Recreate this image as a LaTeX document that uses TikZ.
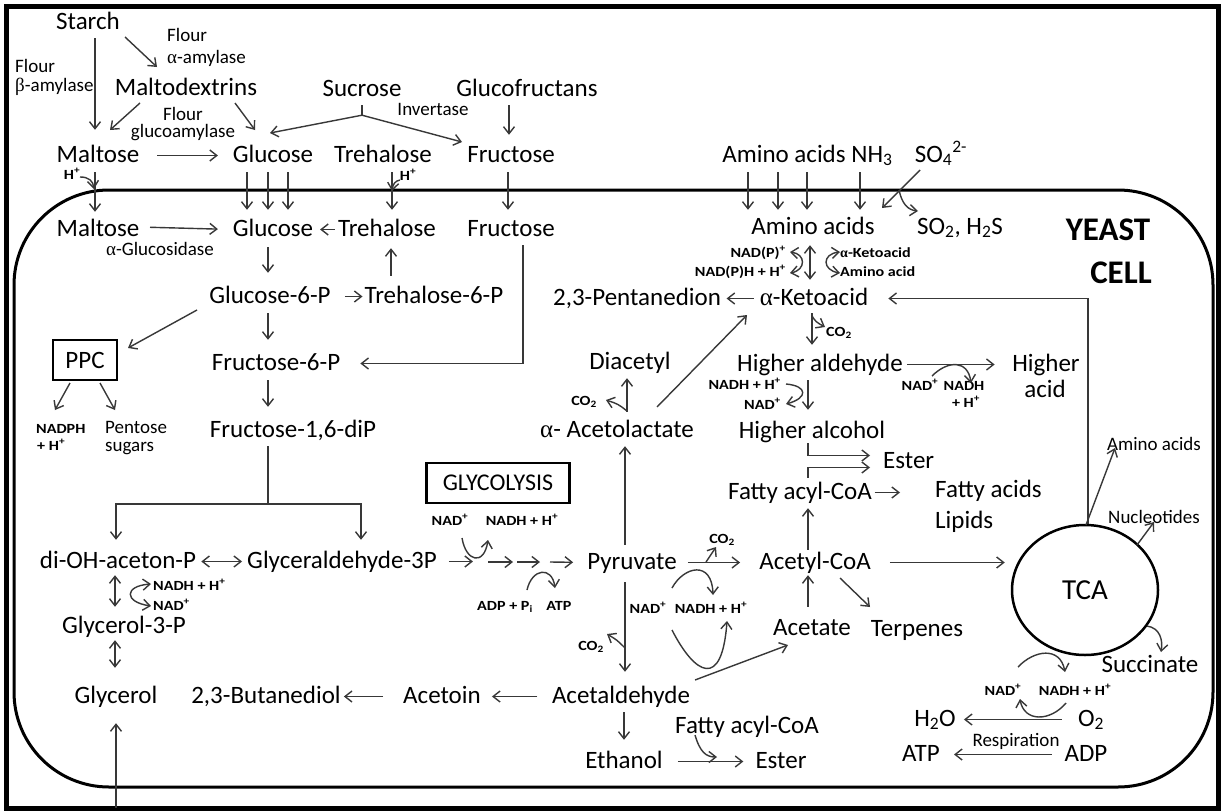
\documentclass[tikz,border=0pt]{standalone}
\usepackage{fontspec}
\setmainfont{Carlito}
\newfontfamily\tinyfont{Carlito}[FakeStretch=1.15]
\newfontfamily\grk{Liberation Serif}
\newcommand{\al}{{\grk α}}
\newcommand{\be}{{\grk β}}
\usetikzlibrary{arrows.meta,shapes.geometric}
\tikzset{
 lbl/.style={font=\fontsize{25}{28}\selectfont, inner sep=0pt, anchor=base, text height=18pt, text depth=5pt},
 sml/.style={font=\fontsize{19}{21}\selectfont, inner sep=0pt, anchor=base, text height=13pt, text depth=3pt},
 tny/.style={font=\tinyfont\bfseries\fontsize{14}{16}\selectfont, inner sep=0pt, anchor=base, text height=11pt, text depth=3pt},
 big/.style={font=\bfseries\fontsize{33}{36}\selectfont, inner sep=0pt, anchor=base},
 arr/.style={draw=black!78, line width=1.4pt, -{Straight Barb[length=7pt,width=11pt]}},
 darr/.style={draw=black!78, line width=1.4pt, {Straight Barb[length=7pt,width=11pt]}-{Straight Barb[length=7pt,width=11pt]}},
 ln/.style={draw=black!78, line width=1.4pt},
 box/.style={draw, line width=2.5pt, inner sep=0pt, font=\fontsize{25}{28}\selectfont},
}
\begin{document}
\begin{tikzpicture}[x=1pt,y=-1pt]
\useasboundingbox (0,0) rectangle (1224,811);
\fill[white] (0,0) rectangle (1224,811);
\draw[line width=5pt] (6,6) rectangle (1218,808);
\draw[line width=3pt, rounded corners=95pt] (14,190) rectangle (1213,787);
% column coordinates
\foreach \n in {95,115,116,247,268,288,361,391,392,508,509,523,624,625,627,748,778,807,808,810,812,860,1088}
  {\coordinate (c\n) at (\n,0);}
% ---------- outside ----------
\node[lbl] (starch) at (88,29) {Starch};
\node[sml,anchor=base west] (fl1) at (167,41) {Flour};
\node[sml,anchor=base west] (aamy) at (167,63) {\al-amylase};
\node[sml,anchor=base west] (fl2) at (15,72) {Flour};
\node[sml,anchor=base west] (bamy) at (15,91) {\be-amylase};
\node[lbl] (maltodex) at (186,95) {Maltodextrins};
\node[sml] (fl3) at (183,120) {Flour};
\node[sml] (gamy) at (183,137) {glucoamylase};
\node[lbl] (sucrose) at (362,96) {Sucrose};
\node[sml] (inv) at (433,115) {Invertase};
\node[lbl] (glucofr) at (527,96) {Glucofructans};
\node[lbl] (malt1) at (98,162) {Maltose};
\node[lbl] (glu1) at (273,162) {Glucose};
\node[lbl] (treh1) at (383,162) {Trehalose};
\node[lbl] (fru1) at (511,162) {Fructose};
\node[lbl] (amino1) at (784,162) {Amino acids};
\node[lbl] (nh3) at (872,162) {NH\textsubscript{3}};
\node[lbl] (so4) at (941,162) {SO\textsubscript{4}\textsuperscript{2-}};
\node[tny] (hp1) at (72,179) {H\textsuperscript{+}};
\node[tny] (hp2) at (408,180) {H\textsuperscript{+}};
% ---------- inside ----------
\node[lbl,text depth=0pt] (malt2) at (98,236) {Maltose};
\node[lbl] (glu2) at (273,236) {Glucose};
\node[lbl] (treh2) at (387,236) {Trehalose};
\node[lbl] (fru2) at (511,236) {Fructose};
\node[sml] (aglu) at (160,255) {\al-Glucosidase};
\node[lbl] (amino2) at (813,234) {Amino acids};
\node[lbl] (so2) at (960,234) {SO\textsubscript{2}, H\textsubscript{2}S};
\node[big] (yeast) at (1108,240) {YEAST};
\node[big] (cell) at (1121,283) {CELL};
\node[tny,anchor=base east] (nadp1) at (786,257) {NAD(P)\textsuperscript{+}};
\node[tny,anchor=base east] (nadph1) at (786,276) {NAD(P)H + H\textsuperscript{+}};
\node[tny,anchor=base west] (ketos) at (840,257) {\al-Ketoacid};
\node[tny,anchor=base west] (aas) at (840,276) {Amino acid};
\node[lbl] (g6p) at (270,303) {Glucose-6-P};
\node[lbl] (t6p) at (434,303) {Trehalose-6-P};
\node[lbl] (pent) at (637,305) {2,3-Pentanedion};
\node[lbl] (keto) at (814,305) {\al-Ketoacid};
\node[tny,anchor=base west] (co2a) at (826,336) {CO\textsubscript{2}};
\node[box, minimum width=64pt, minimum height=40pt] (ppc) at (85,360) {PPC};
\node[lbl] (f6p) at (276,370) {Fructose-6-P};
\node[lbl] (diacetyl) at (630,369) {Diacetyl};
\node[lbl] (hald) at (820,371) {Higher aldehyde};
\node[lbl] (higher) at (1046,371) {Higher};
\node[lbl] (acid) at (1045,397) {acid};
\node[tny,anchor=base east] (nadhh) at (781,389) {NADH + H\textsuperscript{+}};
\node[tny,anchor=base east] (nadh2) at (781,409) {NAD\textsuperscript{+}};
\node[tny] (nada) at (920,390) {NAD\textsuperscript{+}};
\node[tny] (nadha) at (964,390) {NADH};
\node[tny] (hpa) at (966,407) {+ H\textsuperscript{+}};
\node[tny] (co2b) at (584,405) {CO\textsubscript{2}};
\node[tny,anchor=base west] (nadph) at (36,433) {NADPH};
\node[tny,anchor=base west] (hpp) at (37,450) {+ H\textsuperscript{+}};
\node[sml,anchor=base west] (pentose) at (105,433) {Pentose};
\node[sml,anchor=base west] (sugars) at (105,451) {sugars};
\node[lbl] (f16) at (293,437) {Fructose-1,6-diP};
\node[lbl] (acetolac) at (617,437) {\al- Acetolactate};
\node[lbl] (halc) at (812,438) {Higher alcohol};
\node[lbl,anchor=base west] (ester1) at (883,468) {Ester};
\node[lbl] (facoa) at (800,499) {Fatty acyl-CoA};
\node[lbl,anchor=base west] (fattyacids) at (935,497) {Fatty acids};
\node[lbl,anchor=base west] (lipids) at (935,528) {Lipids};
\node[box, minimum width=143pt, minimum height=40pt, font=\fontsize{24}{27}\selectfont] (glyc) at (498,483) {GLYCOLYSIS};
\node[tny] (nadg) at (450,525) {NAD\textsuperscript{+}};
\node[tny] (nadhg) at (522,525) {NADH + H\textsuperscript{+}};
\node[lbl] (dihap) at (118,568) {di-OH-aceton-P};
\node[lbl] (gap3) at (342,568) {Glyceraldehyde-3P};
\node[lbl] (pyr) at (632,569) {Pyruvate};
\node[lbl] (acetylcoa) at (815,569) {Acetyl-CoA};
\node[tny] (co2c) at (722,543) {CO\textsubscript{2}};
\node[tny] (adpg) at (505,610) {ADP + P\textsubscript{i}};
\node[tny] (atpg) at (559,610) {ATP};
\node[tny] (nadp) at (648,613) {NAD\textsuperscript{+}};
\node[tny] (nadhp) at (711,613) {NADH + H\textsuperscript{+}};
\node[tny] (co2d) at (591,650) {CO\textsubscript{2}};
\node[tny,anchor=base west] (nadhgl) at (153,590) {NADH + H\textsuperscript{+}};
\node[tny,anchor=base west] (nadgl) at (153,610) {NAD\textsuperscript{+}};
\node[lbl] (g3p) at (124,633) {Glycerol-3-P};
\node[lbl] (acetate) at (812,635) {Acetate};
\node[lbl] (terpenes) at (917,636) {Terpenes};
\node[draw, ellipse, line width=2.5pt, minimum width=146pt, minimum height=130pt, inner sep=0pt, font=\fontsize{29}{32}\selectfont] (tca) at (1085,590) {TCA};
\node[sml] (aatca) at (1154,450) {Amino acids};
\node[sml] (nucl) at (1154,523) {Nucleotides};
\node[lbl] (succ) at (1150,672) {Succinate};
\node[tny] (nadt) at (1003,695) {NAD\textsuperscript{+}};
\node[tny] (nadht) at (1075,695) {NADH + H\textsuperscript{+}};
\node[lbl] (glycerol) at (116,703) {Glycerol};
\node[lbl] (butanediol) at (266,703) {2,3-Butanediol};
\node[lbl] (acetoin) at (442,703) {Acetoin};
\node[lbl] (acetald) at (621,703) {Acetaldehyde};
\node[lbl] (h2o) at (935,726) {H\textsubscript{2}O};
\node[lbl] (o2) at (1091,726) {O\textsubscript{2}};
\node[sml] (resp) at (1016,746) {Respiration};
\node[lbl] (atp) at (921,761) {ATP};
\node[lbl] (adp) at (1086,761) {ADP};
\node[lbl] (facoa2) at (747,733) {Fatty acyl-CoA};
\node[lbl] (ethanol) at (624,768) {Ethanol};
\node[lbl] (ester2) at (781,768) {Ester};
% ---------- connectors: outside ----------
\draw[arr,shorten <=4pt,shorten >=14pt] (starch.south -| c95) -- (malt1.north -| c95);
\draw[arr] (125,37) -- (157,67);
\draw[arr] (140,103) -- (110,130);
\draw[arr] (235,103) -- (255,130);
\draw[ln] (sucrose.south) ++(0,4) -- ++(0,10) coordinate (inv0);
\draw[arr] (inv0) -- (270,133);
\draw[arr] (inv0) -- (462,142);
\draw[arr,shorten <=4pt,shorten >=9pt] (glucofr.south -| c509) -- (fru1.north -| c509);
\draw[arr,shorten <=17.5pt,shorten >=14.7pt] (malt1.east) -- (glu1.west);
% ---------- membrane ----------
\foreach \c in {c247,c268,c288} {\draw[arr,shorten <=5pt,shorten >=8pt] (glu1.south -| \c) -- (glu2.north -| \c);}
\draw[arr,shorten <=5pt,shorten >=6pt] (malt1.south -| c95) -- (malt2.north -| c95);
\draw[arr,shorten <=5pt,shorten >=8pt] (treh1.south -| c392) -- (treh2.north -| c392);
\draw[arr,shorten <=5pt,shorten >=8pt] (fru1.south -| c508) -- (fru2.north -| c508);
\foreach \c in {c748,c778,c807} {\draw[arr,shorten <=5pt,shorten >=6pt] (amino1.south -| \c) -- (amino2.north -| \c);}
\draw[arr,shorten <=5pt,shorten >=6pt] (nh3.south -| c860) -- (amino2.north -| c860);
\draw[arr] (920,170) -- (882,208);
\draw[arr] (899,190) .. controls (902,204) and (908,210) .. (918,211);
\draw[arr] (80,177) .. controls (89,177) and (93,181) .. (94,189);
\draw[arr] (400,180) .. controls (395,181) and (393,184) .. (392,191);
% ---------- upper glycolysis ----------
\draw[arr,shorten <=10.5pt,shorten >=14.7pt] (malt2.east) -- (glu2.west);
\draw[arr,shorten <=3pt,shorten >=6.7pt] (treh2.west) -- (glu2.east);
\draw[arr,shorten <=6pt,shorten >=12pt] (glu2.south -| c268) -- (g6p.north -| c268);
\draw[arr,shorten <=9pt,shorten >=7pt] (t6p.north -| c391) -- (treh2.south -| c391);
\draw[arr,shorten <=14pt,shorten >=2pt] (g6p.east) -- (t6p.west);
\draw[arr,shorten <=4pt,shorten >=20pt] (fru2.south -| c523) |- (f6p.east);
\draw[arr,shorten <=5pt,shorten >=12pt] (g6p.south -| c268) -- (f6p.north -| c268);
\draw[arr,shorten <=5pt,shorten >=12pt] (f6p.south -| c268) -- (f16.north -| c268);
\draw[arr] (197,310) -- (128,348);
\draw[arr] (70,383) -- (55,410);
\draw[arr] (100,383) -- (115,410);
\coordinate (br) at (268,504);
\draw[ln,shorten <=4pt] (f16.south -| c268) -- (br);
\draw[arr,shorten >=10pt] (br) -| (dihap.north -| c116);
\draw[arr,shorten >=10pt] (br) -| (gap3.north -| c361);
% ---------- glycerol ----------
\draw[darr,shorten <=5pt,shorten >=5pt] (dihap.east) -- (gap3.west);
\draw[darr,shorten <=2pt,shorten >=8pt] (dihap.south -| c115) -- (g3p.north -| c115);
\draw[darr] (151,584) .. controls (124,586) and (124,602) .. (151,606);
\draw[darr,shorten <=2pt,shorten >=17pt] (g3p.south -| c115) -- (glycerol.north -| c115);
\coordinate (gin) at (116,808);
\draw[arr,shorten >=15pt] (gin) -- (glycerol.south -| c116);
% ---------- glycolysis ----------
\draw[arr,shorten <=12pt] (gap3.east) -- ++(36,0);
\draw[arr] (488,562) -- (513,562);
\draw[arr] (517,562) -- (540,562);
\draw[arr,shorten >=14pt] (550,562) -- (pyr.west);
\draw[arr] (462,538) .. controls (466,562) and (484,566) .. (488,540);
\draw[arr] (527,590) .. controls (532,568) and (552,566) .. (555,588);
% ---------- pyruvate ----------
\draw[arr,shorten <=6pt,shorten >=4pt] (pyr.north -| c625) -- (acetolac.south -| c625);
\draw[arr,shorten <=8pt,shorten >=13pt] (pyr.south -| c625) -- (acetald.north -| c625);
\draw[arr] (625,648) .. controls (617,640) .. (607,634);
\draw[arr,shorten <=11pt,shorten >=19pt] (pyr.east) -- (acetylcoa.west);
\draw[arr] (706,562) .. controls (710,556) .. (716,547);
\draw[arr] (672,588) .. controls (684,566) and (712,560) .. (713,595);
\draw[arr] (672,630) .. controls (695,675) and (722,690) .. (727,621);
\draw[arr] (695,680) -- (788,645);
% ---------- acetolactate / ketoacid ----------
\draw[arr,shorten <=7pt,shorten >=4pt] (acetolac.north -| c627) -- (diacetyl.south -| c627);
\draw[arr] (627,411) .. controls (618,404) .. (606,400);
\draw[arr] (657,407) -- (747,315);
\draw[arr,shorten <=6pt,shorten >=5.5pt] (keto.west) -- (pent.east);
\draw[arr,shorten >=20pt] (tca.north -| c1088) |- (keto.east);
\draw[darr,shorten <=6pt,shorten >=7pt] (amino2.south -| c810) -- (keto.north -| c810);
\draw[darr] (790,252) .. controls (806,254) and (806,270) .. (790,273);
\draw[darr] (840,252) .. controls (822,254) and (822,270) .. (840,273);
\draw[arr,shorten <=3pt,shorten >=8pt] (keto.south -| c812) -- (hald.north -| c812);
\draw[arr] (812,316) .. controls (816,322) .. (825,327);
\draw[arr,shorten <=4pt,shorten >=10pt] (hald.south -| c808) -- (halc.north -| c808);
\draw[arr] (786,384) .. controls (808,386) and (808,398) .. (786,404);
\draw[arr,shorten <=4.5pt,shorten >=17.5pt] (hald.east) -- (higher.west);
\draw[arr] (932,376) .. controls (948,360) and (968,360) .. (971,383);
% ---------- esters / acetyl-CoA ----------
\draw[arr,shorten >=13pt] (halc.south -| c808) |- ([yshift=6pt]ester1.west);
\draw[arr,shorten <=3pt,shorten >=13pt] (facoa.north -| c808) |- ([yshift=-6pt]ester1.west);
\draw[arr,shorten <=2.5pt,shorten >=35pt] (facoa.east) -- (facoa.east -| fattyacids.west);
\draw[arr,shorten <=1pt,shorten >=4pt] (acetylcoa.north -| c808) -- (facoa.south -| c808);
\draw[arr,shorten <=10pt,shorten >=1pt] (acetate.north -| c808) -- (acetylcoa.south -| c808);
\draw[arr] (840,578) -- (870,607);
\draw[arr,shorten <=19pt,shorten >=6pt] (acetylcoa.east) -- (acetylcoa.east -| tca.west);
% ---------- TCA ----------
\draw[arr] (1086,525) -- (1115,448);
\draw[arr] (1137,545) -- (1154,522);
\draw[arr] (1147,626) .. controls (1160,628) and (1163,640) .. (1161,652);
\draw[arr] (1018,667) .. controls (1034,650) and (1060,646) .. (1065,672);
\draw[arr,shorten <=16pt,shorten >=8pt] (o2.west) -- (h2o.east);
\draw[arr] (1066,703) .. controls (1050,722) and (1024,722) .. (1020,699);
\draw[arr,shorten <=12.5pt,shorten >=14pt] (adp.west) -- (atp.east);
% ---------- bottom ----------
\draw[arr,shorten <=14.5pt,shorten >=11pt] (acetald.west) -- (acetoin.east);
\draw[arr,shorten <=20pt,shorten >=3pt] (acetoin.west) -- (butanediol.east);
\draw[arr,shorten <=4pt,shorten >=10pt] (acetald.south -| c624) -- (ethanol.north -| c624);
\draw[arr,shorten <=15pt,shorten >=12pt] (ethanol.east) -- (ester2.west);
\draw[arr] (695,735) .. controls (700,752) and (706,757) .. (717,757);
\end{tikzpicture}
\end{document}
